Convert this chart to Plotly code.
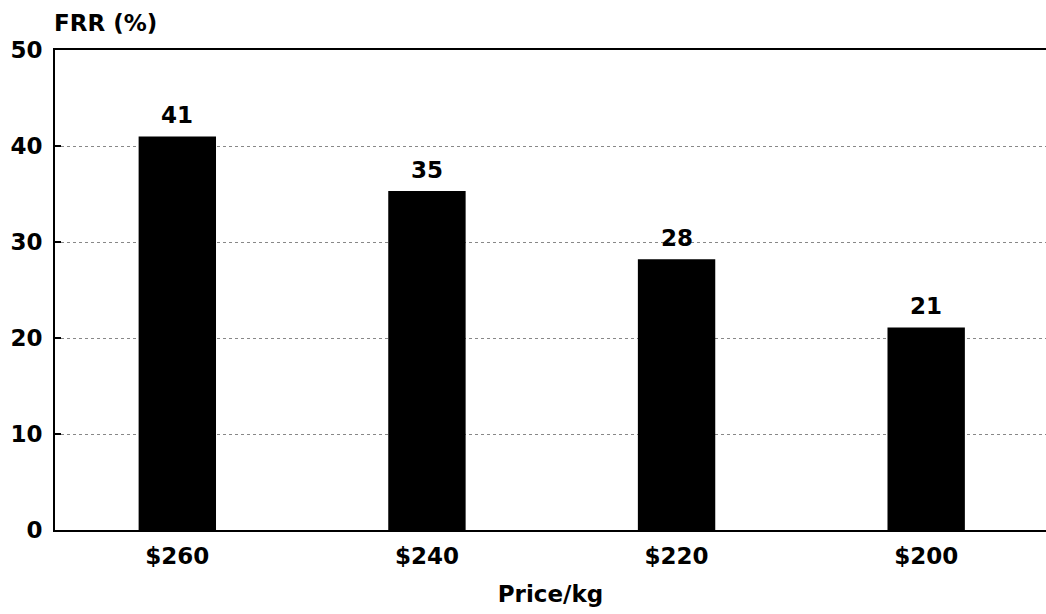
import plotly.graph_objects as go

categories = ["$260", "$240", "$220", "$200"]
values = [41.0, 35.3, 28.2, 21.1]
labels = ["41", "35", "28", "21"]
y_ticks = [0, 10, 20, 30, 40, 50]

font_family = "DejaVu Sans, Liberation Sans, Arial, sans-serif"
fs = 23

fig = go.Figure()
fig.add_trace(go.Bar(
    x=categories, y=values,
    marker=dict(color="black", line=dict(width=0)),
    width=0.31,
))

for c, v, t in zip(categories, values, labels):
    fig.add_annotation(x=c, y=v, text="<b>%s</b>" % t, showarrow=False,
                       yanchor="bottom", yshift=6,
                       font=dict(family=font_family, size=fs, color="black"))

fig.add_annotation(xref="paper", yref="paper", x=-0.003, y=1.025, xanchor="left",
                   yanchor="bottom", text="<b>FRR (%)</b>", showarrow=False,
                   font=dict(family=font_family, size=fs, color="black"))

fig.update_layout(
    width=1046, height=614,
    margin=dict(l=55, r=0, t=50, b=84, autoexpand=False),
    paper_bgcolor="white", plot_bgcolor="white",
    showlegend=False,
    font=dict(family=font_family, size=fs, color="black"),
)
fig.update_xaxes(
    range=[-0.49, 3.48],
    showline=True, linecolor="black", linewidth=2, mirror=True,
    showgrid=False, ticks="",
    tickfont=dict(family=font_family, size=fs, color="black"),
    tickprefix="<b>", ticksuffix="</b>",
    ticklabelstandoff=4,
    title=dict(text="<b>Price/kg</b>", standoff=18,
               font=dict(family=font_family, size=fs, color="black")),
)
fig.update_yaxes(
    range=[0, 50], tickvals=y_ticks,
    ticktext=["<b>%d</b>" % v for v in y_ticks],
    showline=True, linecolor="black", linewidth=2,
    showgrid=True, gridcolor="#888888", griddash="dot", gridwidth=1,
    ticks="inside", ticklen=6, tickcolor="black", tickwidth=2,
    ticklabelstandoff=6,
    tickfont=dict(family=font_family, size=fs, color="black"),
    zeroline=False,
)

fig.write_html("out.html", config={"displayModeBar": False},
               post_script="document.body.style.margin='0';")
